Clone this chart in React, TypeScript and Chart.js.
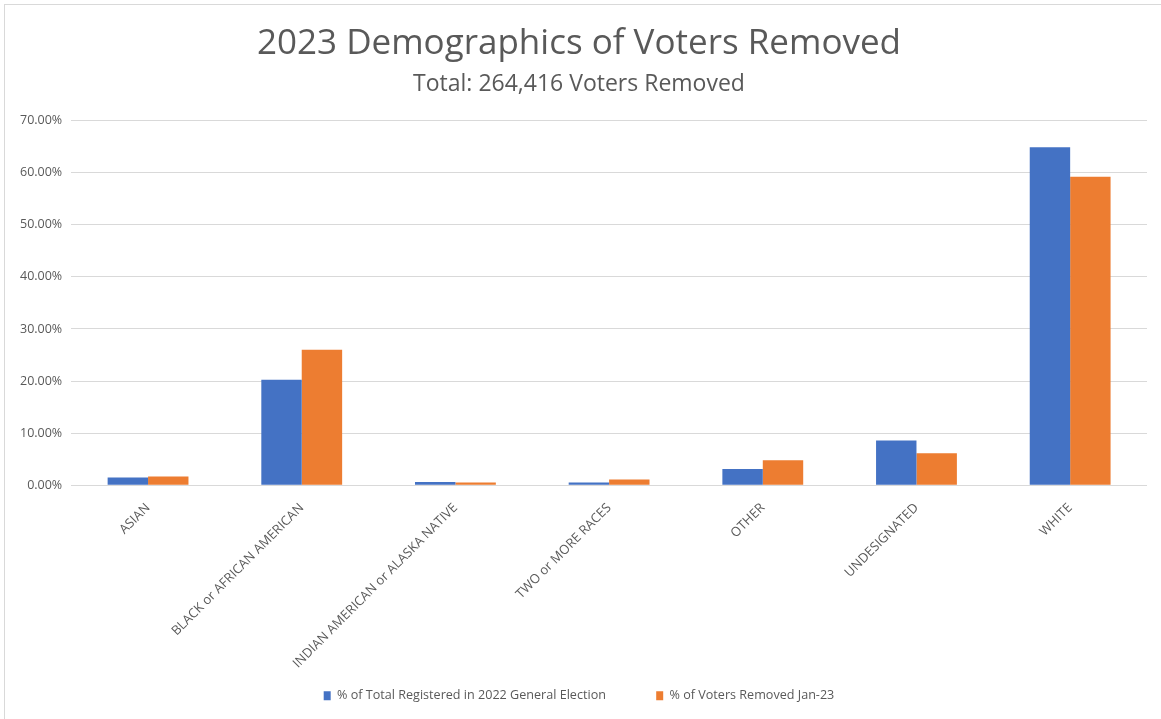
import React, { useEffect, useRef } from "react";
import { Chart, registerables } from "chart.js";

Chart.register(...registerables);

const categories = [
  "ASIAN",
  "BLACK or AFRICAN AMERICAN",
  "INDIAN AMERICAN or ALASKA NATIVE",
  "TWO or MORE RACES",
  "OTHER",
  "UNDESIGNATED",
  "WHITE",
];
const registered2022 = [1.47, 20.24, 0.64, 0.51, 3.14, 8.58, 64.9];
const removedJan23 = [1.67, 26.0, 0.51, 1.09, 4.8, 6.15, 59.2];
const seriesNames = [
  "% of Total Registered in 2022 General Election",
  "% of Voters Removed Jan-23",
];
const titleText = "2023 Demographics of Voters Removed";
const subtitleText = "Total: 264,416 Voters Removed";

const FONT = "'Open Sans', 'Noto Sans', sans-serif";
const TEXT = "#595959";
const LEGEND_GAP = "            ";

export default function App() {
  const ref = useRef<HTMLCanvasElement>(null);
  useEffect(() => {
    document.body.style.margin = "0";
    const ctx = ref.current!;
    const chart = new Chart(ctx, {
      type: "bar",
      data: {
        labels: categories,
        datasets: [
          {
            label: seriesNames[0],
            data: registered2022,
            backgroundColor: "#4472C4",
            borderWidth: 0,
            categoryPercentage: 0.526,
            barPercentage: 1.0,
          },
          {
            label: seriesNames[1],
            data: removedJan23,
            backgroundColor: "#ED7D31",
            borderWidth: 0,
            categoryPercentage: 0.526,
            barPercentage: 1.0,
          },
        ],
      },
      options: {
        animation: false,
        responsive: false,
        maintainAspectRatio: false,
        layout: { padding: { left: 6, right: 14, top: 6, bottom: 7 } },
        plugins: {
          title: {
            display: true,
            text: titleText,
            color: TEXT,
            font: { family: FONT, size: 35, weight: "normal" },
            padding: { top: 12, bottom: 0 },
          },
          subtitle: {
            display: true,
            text: subtitleText,
            color: TEXT,
            font: { family: FONT, size: 23, weight: "normal" },
            padding: { top: 6, bottom: 22 },
          },
          legend: {
            position: "bottom",
            labels: {
              color: TEXT,
              font: { family: FONT, size: 12.6 },
              boxWidth: 7,
              boxHeight: 9,
              padding: 11,
              generateLabels: (c: any) => {
                const items = Chart.defaults.plugins.legend.labels.generateLabels(c);
                return items.map((it: any, i: number) => ({
                  ...it,
                  lineWidth: 0,
                  text: i < items.length - 1 ? it.text + LEGEND_GAP : it.text,
                }));
              },
            },
          },
          tooltip: { enabled: false },
        },
        scales: {
          x: {
            grid: { display: false },
            border: { display: false },
            ticks: {
              color: TEXT,
              font: { family: FONT, size: 13 },
              minRotation: 45,
              maxRotation: 45,
              autoSkip: false,
              padding: 7,
            },
          },
          y: {
            min: 0,
            max: 70,
            grid: { color: "#d9d9d9", lineWidth: 1, drawTicks: false },
            border: { display: false },
            ticks: {
              stepSize: 10,
              color: TEXT,
              font: { family: FONT, size: 12.5 },
              padding: 9,
              callback: (v: any) => Number(v).toFixed(2) + "%",
            },
          },
        },
      },
    });
    return () => chart.destroy();
  }, []);
  return (
    <div
      style={{
        position: "absolute",
        left: 4,
        top: 4,
        width: 1157,
        height: 715,
        borderLeft: "1px solid #d9d9d9",
        borderTop: "1px solid #d9d9d9",
        background: "#fff",
      }}
    >
      <canvas ref={ref} width={1156} height={714} style={{ display: "block" }} />
    </div>
  );
}
